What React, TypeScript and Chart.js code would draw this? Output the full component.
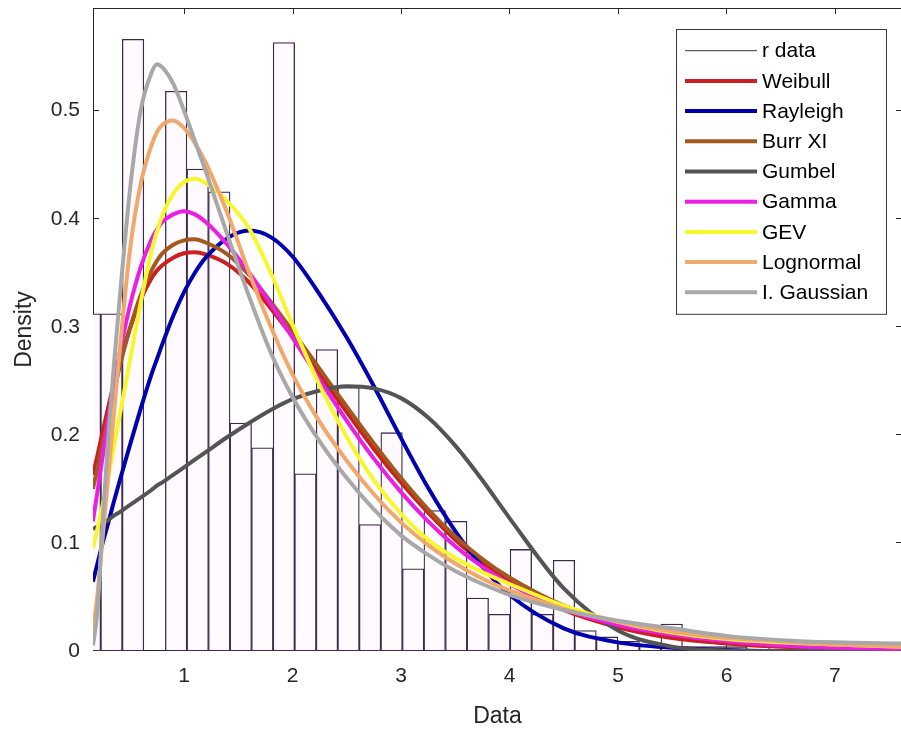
import React, { useEffect, useRef } from "react";
import { Chart, registerables } from "chart.js";

Chart.register(...registerables);

// ---------- data ----------
const binCenters = [
  0.133, 0.3316, 0.5302, 0.7288, 0.9274, 1.126, 1.3246, 1.5232, 1.7218, 1.9204,
  2.119, 2.3176, 2.5162, 2.7148, 2.9134, 3.112, 3.3106, 3.5092, 3.7078, 3.9064,
  4.105, 4.3036, 4.5022, 4.7008, 4.8994, 5.098, 5.2966, 5.4952, 5.6938, 5.8924,
  6.091, 6.2896, 6.4882, 6.6868, 6.8854, 7.084, 7.2826, 7.4812, 7.6798,
];
const binDensity = [
  0.312, 0.312, 0.566, 0, 0.518, 0.446, 0.425, 0.211, 0.188, 0.563,
  0.164, 0.279, 0.244, 0.117, 0.202, 0.076, 0.13, 0.12, 0.049, 0.034,
  0.094, 0.034, 0.084, 0.019, 0.013, 0.009, 0.005, 0.025, 0.004, 0.004,
  0.004, 0, 0.004, 0, 0, 0.004, 0, 0, 0.004,
];

const xGrid = [
  0.16, 0.2, 0.25, 0.3, 0.35, 0.4, 0.5, 0.6, 0.7, 0.75, 0.8, 0.9, 1.0, 1.1, 1.2,
  1.4, 1.6, 1.8, 2.0, 2.25, 2.5, 2.75, 3.0, 3.25, 3.5, 3.75, 4.0, 4.5, 5.0, 5.5,
  6.0, 6.5, 7.0, 7.62,
];
const weibull = [
  0.163, 0.18, 0.203, 0.225, 0.246, 0.265, 0.298, 0.325, 0.345, 0.352, 0.357, 0.364, 0.368, 0.369, 0.367,
  0.358, 0.341, 0.317, 0.291, 0.256, 0.221, 0.187, 0.156, 0.128, 0.103, 0.082, 0.064, 0.038, 0.022, 0.012,
  0.007, 0.004, 0.003, 0.002,
];
const rayleigh = [
  0.064, 0.08, 0.1, 0.118, 0.137, 0.155, 0.19, 0.224, 0.256, 0.27, 0.284, 0.31, 0.332, 0.35, 0.364,
  0.382, 0.389, 0.383, 0.365, 0.33, 0.29, 0.245, 0.197, 0.151, 0.111, 0.078, 0.052, 0.021, 0.008, 0.003,
  0.001, 0, 0, 0,
];
const burrXI = [
  0.15, 0.168, 0.192, 0.215, 0.238, 0.26, 0.298, 0.329, 0.352, 0.361, 0.368, 0.376, 0.38, 0.381, 0.378,
  0.367, 0.348, 0.323, 0.296, 0.261, 0.226, 0.192, 0.16, 0.131, 0.106, 0.085, 0.068, 0.042, 0.026, 0.016,
  0.01, 0.007, 0.005, 0.003,
];
const gumbel = [
  0.113, 0.115, 0.118, 0.121, 0.125, 0.128, 0.135, 0.142, 0.149, 0.153, 0.156, 0.163, 0.17, 0.177, 0.184,
  0.198, 0.211, 0.223, 0.233, 0.241, 0.245, 0.243, 0.234, 0.216, 0.19, 0.158, 0.123, 0.058, 0.019, 0.004,
  0.0005, 0, 0, 0,
];
const gammaFit = [
  0.12, 0.146, 0.18, 0.213, 0.244, 0.272, 0.319, 0.355, 0.381, 0.39, 0.397, 0.404, 0.407, 0.404, 0.397,
  0.376, 0.35, 0.321, 0.29, 0.251, 0.213, 0.178, 0.147, 0.12, 0.097, 0.078, 0.062, 0.039, 0.024, 0.015,
  0.009, 0.005, 0.003, 0.002,
];
const gev = [
  0.095, 0.112, 0.135, 0.16, 0.187, 0.214, 0.268, 0.322, 0.37, 0.388, 0.403, 0.423, 0.434, 0.437, 0.433,
  0.416, 0.391, 0.35, 0.302, 0.246, 0.198, 0.158, 0.127, 0.103, 0.086, 0.073, 0.062, 0.042, 0.027, 0.017,
  0.011, 0.008, 0.006, 0.004,
];
const lognormal = [
  0.02, 0.05, 0.105, 0.16, 0.215, 0.27, 0.37, 0.432, 0.468, 0.48, 0.487, 0.491, 0.484, 0.47, 0.452,
  0.405, 0.35, 0.3, 0.256, 0.212, 0.176, 0.145, 0.119, 0.098, 0.081, 0.067, 0.056, 0.039, 0.027, 0.018,
  0.012, 0.009, 0.006, 0.004,
];
const invGaussian = [
  0.005, 0.035, 0.12, 0.195, 0.26, 0.318, 0.425, 0.5, 0.535, 0.543, 0.54, 0.525, 0.5, 0.472, 0.444,
  0.385, 0.328, 0.276, 0.235, 0.194, 0.16, 0.131, 0.107, 0.089, 0.074, 0.062, 0.052, 0.038, 0.028, 0.021,
  0.014, 0.01, 0.008, 0.007,
];

const xTicks = [1, 2, 3, 4, 5, 6, 7];
const yTicks = [0, 0.1, 0.2, 0.3, 0.4, 0.5];
const X_MIN = 0.161;
const X_MAX = 7.618;
const Y_MAX = 0.595;

// ---------- styles ----------
const FONT = "'Liberation Sans', Arial, Helvetica, sans-serif";
const AXIS_COLOR = "#262626";
const BAR_EDGE = "#3c2a4a";
const BAR_FILL = "#fefafe";

const curves = [
  { label: "Weibull", values: weibull, color: "#cc1f1f" },
  { label: "Rayleigh", values: rayleigh, color: "#0000b0" },
  { label: "Burr XI", values: burrXI, color: "#a3581f" },
  { label: "Gumbel", values: gumbel, color: "#545454" },
  { label: "Gamma", values: gammaFit, color: "#eb1fe3" },
  { label: "GEV", values: gev, color: "#f8f62c" },
  { label: "Lognormal", values: lognormal, color: "#f0a96b" },
  { label: "I. Gaussian", values: invGaussian, color: "#a8a8a8" },
];

// ---------- plugins ----------
const framePlugin = {
  id: "matlabFrame",
  beforeDatasetsDraw(chart: any) {
    const { ctx, chartArea: a, scales } = chart;
    ctx.save();
    ctx.strokeStyle = AXIS_COLOR;
    ctx.lineWidth = 1;
    ctx.strokeRect(a.left + 0.5, a.top + 0.5, a.right - a.left - 1, a.bottom - a.top - 1);
    const L = 6;
    ctx.beginPath();
    for (const v of xTicks) {
      const px = Math.round(scales.x.getPixelForValue(v)) + 0.5;
      ctx.moveTo(px, a.bottom);
      ctx.lineTo(px, a.bottom - L);
      ctx.moveTo(px, a.top);
      ctx.lineTo(px, a.top + L);
    }
    for (const v of yTicks) {
      const py = Math.round(scales.y.getPixelForValue(v)) - 0.5;
      ctx.moveTo(a.left, py);
      ctx.lineTo(a.left + L, py);
      ctx.moveTo(a.right, py);
      ctx.lineTo(a.right - L, py);
    }
    ctx.stroke();
    ctx.restore();
  },
};

const legendPlugin = {
  id: "matlabLegend",
  afterDraw(chart: any) {
    const ctx = chart.ctx;
    const left = 676;
    const top = 29;
    const right = 886;
    const row0 = 50.7;
    const gap = 30.2;
    const ds = chart.data.datasets;
    const bottom = row0 + (ds.length - 1) * gap + 21.5;
    ctx.save();
    ctx.fillStyle = "#ffffff";
    ctx.fillRect(left, top, right - left, bottom - top);
    ctx.strokeStyle = "#3a3a3a";
    ctx.lineWidth = 1;
    ctx.strokeRect(left + 0.5, top + 0.5, right - left, bottom - top);
    ctx.font = `21px ${FONT}`;
    ctx.textBaseline = "middle";
    ctx.textAlign = "left";
    ds.forEach((d: any, i: number) => {
      const y = row0 + i * gap;
      ctx.strokeStyle = d.borderColor;
      ctx.lineWidth = d.type === "line" ? 4 : 1;
      ctx.beginPath();
      ctx.moveTo(685, y);
      ctx.lineTo(757, y);
      ctx.stroke();
      ctx.fillStyle = "#000000";
      ctx.fillText(d.label, 762, y + 1);
    });
    ctx.restore();
  },
};

export default function App() {
  const ref = useRef<HTMLCanvasElement>(null);

  useEffect(() => {
    const canvas = ref.current;
    if (!canvas) return;

    const datasets: any[] = [
      {
        type: "bar",
        label: "r data",
        data: binCenters.map((x, i) => ({ x, y: binDensity[i] })),
        backgroundColor: BAR_FILL,
        borderColor: BAR_EDGE,
        borderWidth: 1.3,
        borderSkipped: false,
        barPercentage: 1,
        categoryPercentage: 1,
        order: 100,
        clip: 0,
      },
      ...curves.map((c, k) => ({
        type: "line",
        label: c.label,
        data: xGrid.map((x, i) => ({ x, y: c.values[i] })),
        borderColor: c.color,
        backgroundColor: c.color,
        borderWidth: 4,
        pointRadius: 0,
        fill: false,
        cubicInterpolationMode: "monotone",
        order: curves.length - k,
        clip: 0,
      })),
    ];

    const chart = new Chart(canvas, {
      type: "bar",
      data: { datasets },
      options: {
        animation: false,
        responsive: false,
        devicePixelRatio: 1,
        layout: { padding: { top: 8, right: 4, left: 0, bottom: 0 } },
        plugins: { legend: { display: false }, tooltip: { enabled: false } },
        scales: {
          x: {
            type: "linear",
            min: X_MIN,
            max: X_MAX,
            offset: false,
            grid: { display: false, drawTicks: false, offset: false },
            border: { display: false },
            ticks: {
              autoSkip: false,
              maxRotation: 0,
              padding: 13,
              color: AXIS_COLOR,
              font: { family: FONT, size: 21 },
              callback: (v: any) => String(v),
            },
            title: {
              display: true,
              text: "Data",
              color: AXIS_COLOR,
              font: { family: FONT, size: 23 },
              padding: { top: 0, bottom: 4 },
            },
            afterBuildTicks: (axis: any) => {
              axis.ticks = xTicks.map((v) => ({ value: v }));
            },
            afterFit: (axis: any) => {
              axis.height = 83;
              axis.paddingLeft = 0;
              axis.paddingRight = 0;
            },
          },
          y: {
            type: "linear",
            min: 0,
            max: Y_MAX,
            grid: { display: false, drawTicks: false },
            border: { display: false },
            ticks: {
              autoSkip: false,
              padding: 13,
              color: AXIS_COLOR,
              font: { family: FONT, size: 21 },
              callback: (v: any) => String(v),
            },
            title: {
              display: true,
              text: "Density",
              color: AXIS_COLOR,
              font: { family: FONT, size: 23 },
              padding: { top: 11, bottom: 0 },
            },
            afterBuildTicks: (axis: any) => {
              axis.ticks = yTicks.map((v) => ({ value: v }));
            },
            afterFit: (axis: any) => {
              axis.width = 93;
              axis.paddingTop = 0;
              axis.paddingBottom = 0;
            },
          },
        },
      },
      plugins: [framePlugin, legendPlugin],
    } as any);

    return () => chart.destroy();
  }, []);

  return (
    <div
      style={{
        position: "fixed",
        left: 0,
        top: 0,
        width: 901,
        height: 734,
        overflow: "hidden",
        background: "#ffffff",
      }}
    >
      <canvas ref={ref} width={906} height={734} style={{ display: "block", width: 906, height: 734 }} />
    </div>
  );
}
